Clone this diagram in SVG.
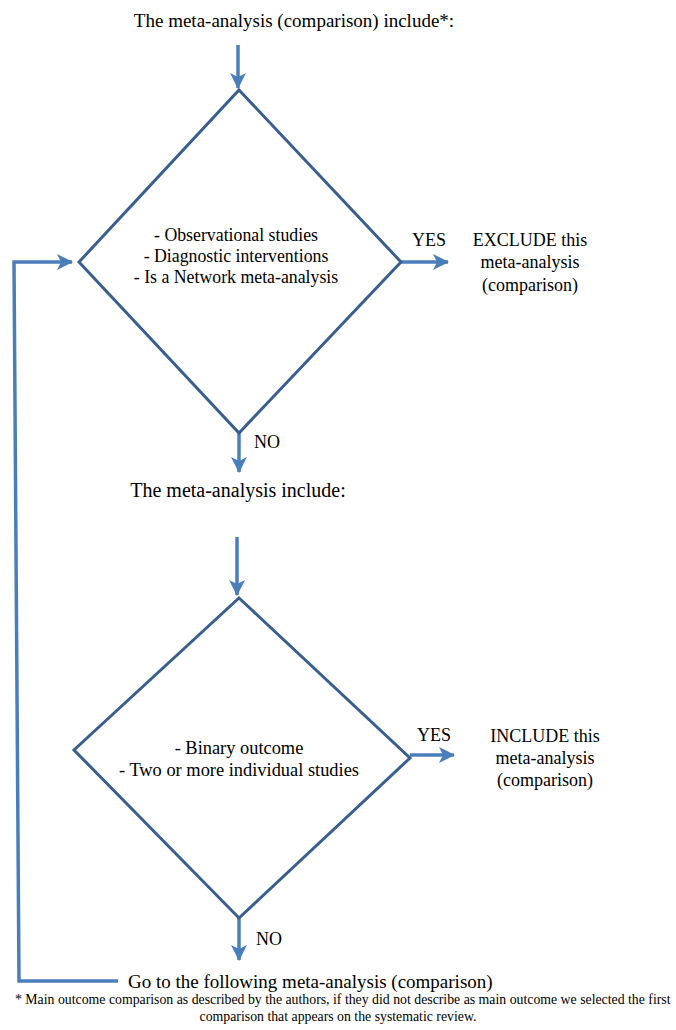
<svg xmlns="http://www.w3.org/2000/svg" width="676" height="1030" viewBox="0 0 676 1030">
<defs>
<marker id="ah" markerUnits="userSpaceOnUse" markerWidth="16" markerHeight="16" viewBox="0 0 16 16" refX="15" refY="8" orient="auto">
<path d="M0,0 L16,8 L0,16 L4,8 Z" fill="#4A7EBB"/>
</marker>
<style>
.t{font-family:"Liberation Serif","Times New Roman",serif;font-size:18px;fill:#000}
.f{font-family:"Liberation Serif","Times New Roman",serif;font-size:13.8px;fill:#000}
.c{stroke:#4A7EBB;stroke-width:3.5;fill:none}
.d{stroke:#3A5F8F;stroke-width:3;fill:#fff}
</style>
</defs>
<rect width="676" height="1030" fill="#fff"/>
<g id="connectors">
<line class="c" x1="238" y1="45" x2="238" y2="88" marker-end="url(#ah)"/>
<line class="c" x1="401" y1="262" x2="448" y2="262" marker-end="url(#ah)"/>
<line class="c" x1="239" y1="433" x2="239" y2="472" marker-end="url(#ah)"/>
<line class="c" x1="237" y1="537" x2="237" y2="595" marker-end="url(#ah)"/>
<line class="c" x1="410" y1="755" x2="454" y2="755" marker-end="url(#ah)"/>
<line class="c" x1="239" y1="918" x2="239" y2="960" marker-end="url(#ah)"/>
<polyline class="c" points="118,981 19,981 14,262 72,262" marker-end="url(#ah)"/>
</g>
<g id="title"><text class="t" style="font-size:19px" x="294" y="27" text-anchor="middle">The meta-analysis (comparison) include*:</text></g>
<g id="decision1">
<polygon class="d" points="239,90 401,262 239,433 79,262"/>
<text class="t" style="font-size:17.8px" x="236" y="241" text-anchor="middle">- Observational studies</text>
<text class="t" style="font-size:17.8px" x="236" y="262" text-anchor="middle">- Diagnostic interventions</text>
<text class="t" style="font-size:17.8px" x="236" y="283" text-anchor="middle">- Is a Network meta-analysis</text>
</g>
<g id="yes1"><text class="t" x="412" y="246">YES</text></g>
<g id="exclude">
<text class="t" x="530" y="246" text-anchor="middle">EXCLUDE this</text>
<text class="t" x="530" y="268" text-anchor="middle">meta-analysis</text>
<text class="t" x="530" y="291" text-anchor="middle">(comparison)</text>
</g>
<g id="no1"><text class="t" x="254" y="448">NO</text></g>
<g id="include-label"><text class="t" style="font-size:20px" x="238" y="497" text-anchor="middle">The meta-analysis include:</text></g>
<g id="decision2">
<polygon class="d" points="239,598 410,758 239,918 74,750"/>
<text class="t" style="font-size:18.4px" x="239" y="754" text-anchor="middle">- Binary outcome</text>
<text class="t" style="font-size:18.4px" x="239" y="776" text-anchor="middle">- Two or more individual studies</text>
</g>
<g id="yes2"><text class="t" x="417" y="741">YES</text></g>
<g id="include">
<text class="t" x="545" y="742" text-anchor="middle">INCLUDE this</text>
<text class="t" x="545" y="764" text-anchor="middle">meta-analysis</text>
<text class="t" x="545" y="786" text-anchor="middle">(comparison)</text>
</g>
<g id="no2"><text class="t" x="256" y="945">NO</text></g>
<g id="next"><text class="t" style="font-size:19px" x="128" y="988">Go to the following meta-analysis (comparison)</text></g>
<g id="footnote">
<text class="f" x="15" y="1004">* Main outcome comparison as described by the authors, if they did not describe as main outcome we selected the first</text>
<text class="f" x="338" y="1021" text-anchor="middle">comparison that appears on the systematic review.</text>
</g>
</svg>
